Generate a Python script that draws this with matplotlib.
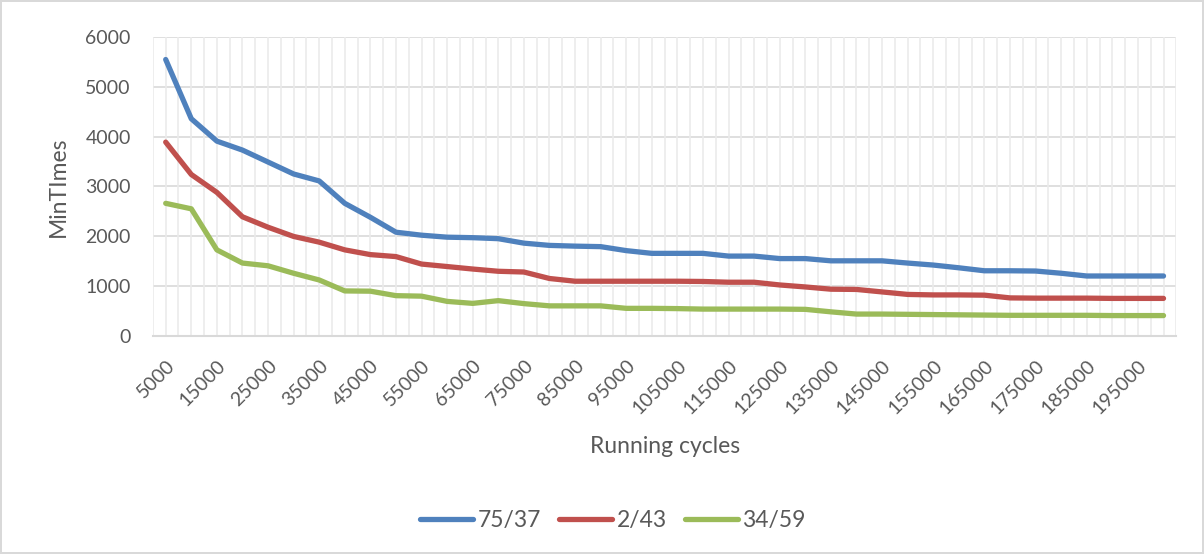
import matplotlib.pyplot as plt
import numpy as np

plt.rcParams['font.family'] = ['Lato', 'DejaVu Sans']

# Running cycles (categories)
cycles = list(range(5000, 200001, 5000))

# MinTimes per series
s_75_37 = [5550, 4360, 3910, 3730, 3490, 3250, 3110, 2660, 2380, 2080,
           2020, 1980, 1970, 1950, 1860, 1815, 1800, 1790, 1710, 1655,
           1655, 1655, 1600, 1600, 1550, 1550, 1505, 1505, 1505, 1460,
           1420, 1365, 1305, 1305, 1300, 1255, 1200, 1200, 1200, 1200]
s_2_43 = [3890, 3240, 2880, 2390, 2180, 1995, 1880, 1725, 1630, 1590,
          1440, 1390, 1340, 1295, 1280, 1150, 1095, 1095, 1095, 1095,
          1095, 1090, 1075, 1075, 1020, 980, 935, 930, 880, 830,
          820, 820, 815, 760, 755, 755, 755, 750, 750, 750]
s_34_59 = [2660, 2550, 1725, 1460, 1405, 1255, 1120, 900, 895, 805,
           795, 690, 650, 705, 645, 600, 600, 600, 550, 550,
           545, 535, 535, 535, 535, 530, 480, 435, 435, 430,
           425, 420, 415, 410, 410, 410, 410, 405, 405, 405]

series = [("75/37", s_75_37, "#4F81BD"),
          ("2/43", s_2_43, "#C0504D"),
          ("34/59", s_34_59, "#9BBB59")]

grey = "#595959"

fig = plt.figure(figsize=(12.04, 5.54), dpi=100)
fig.patch.set_edgecolor("#D9D9D9")
fig.patch.set_linewidth(1.5)
ax = fig.add_axes([0.127, 0.394, 0.85, 0.539])

x = np.arange(len(cycles))
for name, vals, color in series:
    ax.plot(x, vals, color=color, lw=3.8, label=name,
            solid_capstyle="round", solid_joinstyle="round", zorder=3)

ax.set_xlim(-0.5, len(cycles) - 0.5)
ax.set_ylim(0, 6000)
ax.set_yticks(range(0, 6001, 1000))

# vertical gridlines at every half category, like Excel
for v in np.arange(-0.5, len(cycles), 0.5):
    ax.axvline(v, color="#EBEBEB", lw=1.2, zorder=1)
ax.yaxis.grid(True, color="#D9D9D9", lw=1.2, zorder=2)
ax.set_axisbelow(True)

ax.set_xticks(x[::2])
ax.set_xticklabels([str(c) for c in cycles[::2]], rotation=45,
                   ha="right", va="top", rotation_mode="anchor")
ax.tick_params(axis="both", length=0, colors=grey, labelsize=14)
ax.tick_params(axis="x", pad=15)
ax.tick_params(axis="y", pad=16)

for side in ["top", "right", "left"]:
    ax.spines[side].set_visible(False)
ax.spines["bottom"].set_color("#D9D9D9")
ax.spines["bottom"].set_linewidth(1.5)

ax.set_xlabel("Running cycles", fontsize=16.5, color=grey)
ax.set_ylabel("MinTImes", fontsize=16.5, color=grey)
ax.xaxis.set_label_coords(0.5, -0.335)
ax.yaxis.set_label_coords(-0.082, 0.5)

fig.legend(loc="center", bbox_to_anchor=(0.509, 0.061), ncol=3,
           frameon=False, fontsize=16.5, labelcolor=grey, handlelength=2.3,
           handletextpad=0.2, columnspacing=0.8)

fig.savefig("out.png", dpi=100)
